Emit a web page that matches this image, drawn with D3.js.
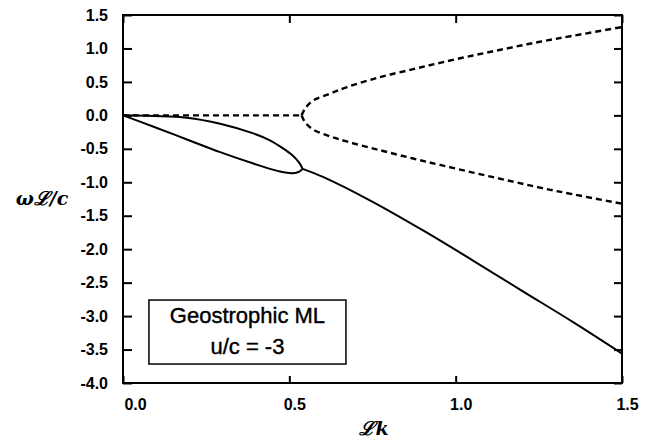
<!DOCTYPE html>
<html lang="en">
  <head>
    <meta charset="UTF-8" />
    <title>Geostrophic ML</title>
    <script src="https://d3js.org/d3.v7.min.js"></script>
    <style>
      body {
        margin: 0;
        background: white;
      }
      .tick text {
        font-family: "Liberation Sans", Arial, sans-serif;
        font-weight: bold;
        font-size: 16px;
      }
    </style>
  </head>
  <body>
    <div id="container"></div>
    <script>
      // values
      const xTicks = [0, 0.5, 1.0, 1.5];
      const xTickLabels = ["0.0", "0.5", "1.0", "1.5"];
      const yTicks = [-4, -3.5, -3, -2.5, -2, -1.5, -1, -0.5, 0, 0.5, 1, 1.5];
      const yTickLabels = ["-4.0", "-3.5", "-3.0", "-2.5", "-2.0", "-1.5", "-1.0", "-0.5", "0.0", "0.5", "1.0", "1.5"];

      // dashed branches
      const zeroK = [0, 0.1, 0.2, 0.3, 0.4, 0.5, 0.537];
      const zeroW = [0, 0, 0, 0, 0, 0, 0];
      const upperK = [0.537, 0.547, 0.571, 0.62, 0.672, 0.772, 0.872, 0.953, 1.052, 1.154, 1.253, 1.353, 1.5];
      const upperW = [0, 0.10, 0.22, 0.32, 0.42, 0.57, 0.69, 0.785, 0.895, 1.0, 1.10, 1.19, 1.32];
      const lowerK = [0.537, 0.547, 0.571, 0.62, 0.672, 0.772, 0.872, 0.953, 1.052, 1.154, 1.253, 1.353, 1.5];
      const lowerW = [0, -0.10, -0.21, -0.31, -0.39, -0.52, -0.645, -0.74, -0.855, -0.97, -1.08, -1.18, -1.32];

      // solid branches
      const loopTopK = [0, 0.092, 0.192, 0.292, 0.392, 0.44, 0.48, 0.51, 0.53, 0.540];
      const loopTopW = [0, -0.01, -0.035, -0.125, -0.27, -0.37, -0.49, -0.60, -0.71, -0.80];
      const loopBotK = [0, 0.092, 0.192, 0.292, 0.392, 0.472, 0.511, 0.530, 0.540];
      const loopBotW = [0, -0.17, -0.36, -0.55, -0.72, -0.84, -0.865, -0.84, -0.80];
      const branchK = [0.540, 0.601, 0.742, 0.902, 1.052, 1.202, 1.353, 1.5];
      const branchW = [-0.80, -0.92, -1.27, -1.72, -2.17, -2.63, -3.09, -3.56];

      const width = 649;
      const height = 438;
      const margin = { left: 123, top: 15, right: 27, bottom: 55 };
      const w = width - margin.left - margin.right;
      const h = height - margin.top - margin.bottom;

      const svg = d3
        .select("#container")
        .append("svg")
        .attr("width", width)
        .attr("height", height);

      const g = svg
        .append("g")
        .attr("transform", `translate(${margin.left},${margin.top})`);

      const x = d3.scaleLinear().domain([0, 1.5]).range([0, w]);
      const y = d3.scaleLinear().domain([-4, 1.5]).range([h, 0]);

      function styleAxis(sel) {
        sel.select(".domain").remove();
        sel.selectAll(".tick line").attr("stroke", "black").attr("stroke-width", 2);
        sel.selectAll(".tick text").attr("fill", "black");
      }

      g.append("g")
        .attr("transform", `translate(0,${h})`)
        .call(
          d3.axisBottom(x)
            .tickValues(xTicks)
            .tickFormat((d, i) => xTickLabels[i])
            .tickSizeInner(-7)
            .tickSizeOuter(0)
            .tickPadding(16)
        )
        .call(styleAxis)
        .selectAll(".tick text")
        .attr("dx", (d, i) => (i === 0 ? 12 : 5));

      g.append("g")
        .call(
          d3.axisTop(x)
            .tickValues(xTicks)
            .tickFormat("")
            .tickSizeInner(-8)
            .tickSizeOuter(0)
        )
        .call(styleAxis);

      g.append("g")
        .call(
          d3.axisLeft(y)
            .tickValues(yTicks)
            .tickFormat((d, i) => yTickLabels[i])
            .tickSizeInner(-9)
            .tickSizeOuter(0)
            .tickPadding(15)
        )
        .call(styleAxis);

      g.append("g")
        .attr("transform", `translate(${w},0)`)
        .call(
          d3.axisRight(y)
            .tickValues(yTicks)
            .tickFormat("")
            .tickSizeInner(-8)
            .tickSizeOuter(0)
        )
        .call(styleAxis);

      // frame
      g.append("rect")
        .attr("x", 0)
        .attr("y", 0)
        .attr("width", w)
        .attr("height", h)
        .attr("fill", "none")
        .attr("stroke", "black")
        .attr("stroke-width", 2);

      const line = d3
        .line()
        .x((d) => x(d[0]))
        .y((d) => y(d[1]))
        .curve(d3.curveCatmullRom);

      const zip = (a, b) => a.map((v, i) => [v, b[i]]);

      const dashed = [zip(zeroK, zeroW), zip(upperK, upperW), zip(lowerK, lowerW)];
      const solid = [zip(loopTopK, loopTopW), zip(loopBotK, loopBotW), zip(branchK, branchW)];

      g.selectAll("path.dash")
        .data(dashed)
        .enter()
        .append("path")
        .attr("class", "dash")
        .attr("d", line)
        .attr("fill", "none")
        .attr("stroke", "black")
        .attr("stroke-width", 2.4)
        .attr("stroke-dasharray", "6,4");

      g.selectAll("path.solid")
        .data(solid)
        .enter()
        .append("path")
        .attr("class", "solid")
        .attr("d", line)
        .attr("fill", "none")
        .attr("stroke", "black")
        .attr("stroke-width", 2);

      // legend box
      const lx = x(0.078);
      const ly = y(-2.76);
      const lw = 197;
      const lh = 64;
      g.append("rect")
        .attr("x", lx)
        .attr("y", ly)
        .attr("width", lw)
        .attr("height", lh)
        .attr("fill", "white")
        .attr("stroke", "black")
        .attr("stroke-width", 1.5);

      const legendText = ["Geostrophic ML", "u/c = -3"];
      g.selectAll("text.legend")
        .data(legendText)
        .enter()
        .append("text")
        .attr("class", "legend")
        .attr("x", lx + lw / 2)
        .attr("y", (d, i) => ly + 23 + i * 31)
        .attr("text-anchor", "middle")
        .attr("font-family", "'Liberation Sans', Arial, sans-serif")
        .attr("font-size", 22)
        .attr("stroke", "black")
        .attr("stroke-width", 0.4)
        .text((d) => d);

      // axis titles
      svg.append("text")
        .attr("x", 42)
        .attr("y", 205)
        .attr("text-anchor", "middle")
        .attr("font-family", "'DejaVu Serif', serif")
        .attr("font-weight", "bold")
        .attr("font-style", "italic")
        .attr("font-size", 19)
        .text("\u03C9\u2112/c");

      svg.append("text")
        .attr("x", 374)
        .attr("y", 435)
        .attr("text-anchor", "middle")
        .attr("font-family", "'DejaVu Serif', serif")
        .attr("font-weight", "bold")
        .attr("font-style", "italic")
        .attr("font-size", 19)
        .text("\u2112k");
    </script>
  </body>
</html>
